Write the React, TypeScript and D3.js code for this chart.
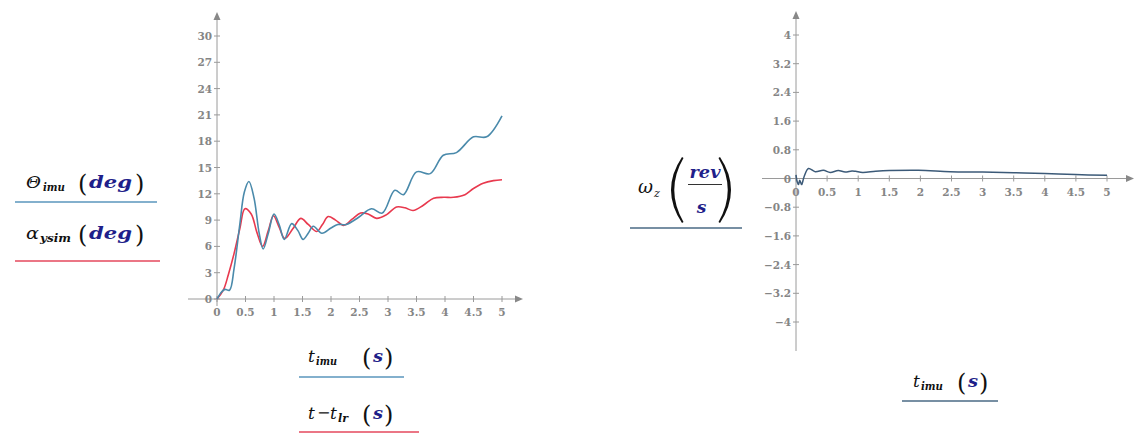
import React from "react";
import * as d3 from "d3";

// ---- data: left plot (angles in deg vs time in s) ----
const thetaT = [0, 0.08, 0.14, 0.22, 0.3, 0.4, 0.48, 0.56, 0.65, 0.74, 0.81, 0.9, 1.0, 1.09, 1.18, 1.31, 1.42, 1.51, 1.6, 1.69, 1.84, 2.0, 2.12, 2.27, 2.48, 2.71, 2.9, 3.12, 3.27, 3.5, 3.74, 3.97, 4.2, 4.5, 4.73, 5.0];
const thetaV = [0, 0.8, 1.1, 1.0, 3.5, 8.5, 12.2, 13.4, 11.5, 7.5, 5.7, 7.5, 9.7, 8.5, 6.8, 8.6, 7.8, 6.8, 7.5, 8.3, 7.5, 8.1, 8.5, 8.5, 9.3, 10.3, 9.8, 12.4, 11.9, 14.5, 14.3, 16.4, 16.7, 18.5, 18.5, 20.9];

const alphaT = [0, 0.11, 0.2, 0.3, 0.4, 0.49, 0.6, 0.7, 0.8, 0.9, 0.99, 1.09, 1.19, 1.33, 1.47, 1.6, 1.75, 1.85, 1.95, 2.08, 2.22, 2.37, 2.52, 2.65, 2.8, 2.97, 3.15, 3.3, 3.44, 3.62, 3.8, 3.98, 4.15, 4.35, 4.5, 4.67, 4.85, 5.0];
const alphaV = [0, 1.0, 2.8, 5.2, 8.0, 10.3, 9.7, 7.6, 6.0, 7.8, 9.5, 8.2, 6.9, 8.0, 9.2, 8.5, 7.7, 8.5, 9.4, 9.0, 8.4, 9.1, 9.8, 9.7, 9.2, 9.6, 10.5, 10.4, 10.1, 10.7, 11.5, 11.6, 11.6, 11.9, 12.6, 13.2, 13.5, 13.6];

const leftXTicks = [0, 0.5, 1, 1.5, 2, 2.5, 3, 3.5, 4, 4.5, 5];
const leftYTicks = [0, 3, 6, 9, 12, 15, 18, 21, 24, 27, 30];

// ---- data: right plot (angular rate in rev/s vs time in s) ----
const omegaT = [0, 0.02, 0.04, 0.06, 0.09, 0.13, 0.2, 0.31, 0.44, 0.55, 0.68, 0.79, 0.9, 0.96, 1.07, 1.28, 1.5, 1.97, 2.48, 3.0, 3.5, 4.0, 4.49, 5.0];
const omegaV = [0.1, -0.1, -0.17, -0.05, -0.17, 0.05, 0.28, 0.19, 0.23, 0.17, 0.22, 0.18, 0.21, 0.2, 0.17, 0.2, 0.22, 0.23, 0.19, 0.18, 0.16, 0.14, 0.11, 0.09];

const rightXTicks = [0, 0.5, 1, 1.5, 2, 2.5, 3, 3.5, 4, 4.5, 5];
const rightYTicks = [-4, -3.2, -2.4, -1.6, -0.8, 0, 0.8, 1.6, 2.4, 3.2, 4];

const AXIS = "#9a9a9a";
const TICK_TEXT = "#858585";
const BLUE = "#4a8aab";
const RED = "#e8394e";
const SLATE = "#3c5a78";
const NAVY = "#1f1f8a";
const SERIF = "DejaVu Serif";

const fmt = (v: number) => (v < 0 ? "\u2212" + String(-v) : String(v));

type AxesProps = {
  x: d3.ScaleLinear<number, number>;
  y: d3.ScaleLinear<number, number>;
  xTicks: number[];
  yTicks: number[];
  xLeft: number;
  xRight: number;
  yBottom: number;
  yTop: number;
};

function Axes({ x, y, xTicks, yTicks, xLeft, xRight, yBottom, yTop }: AxesProps) {
  const x0 = x(0);
  const y0 = y(0);
  return (
    <g>
      <line x1={xLeft} x2={xRight - 6} y1={y0} y2={y0} stroke={AXIS} strokeWidth={1} />
      <path d={`M${xRight},${y0} L${xRight - 8},${y0 - 3.5} L${xRight - 8},${y0 + 3.5} Z`} fill="#888" />
      <line x1={x0} x2={x0} y1={yBottom} y2={yTop + 6} stroke={AXIS} strokeWidth={1} />
      <path d={`M${x0},${yTop} L${x0 - 3.5},${yTop + 8} L${x0 + 3.5},${yTop + 8} Z`} fill="#888" />
      {xTicks.map((t) => (
        <g key={"x" + t}>
          <line x1={x(t)} x2={x(t)} y1={y0 - 3} y2={y0 + 3} stroke={AXIS} />
          <text x={x(t)} y={y0 + 17} textAnchor="middle" fontFamily={SERIF} fontSize={10.5} fontWeight="bold" fill={TICK_TEXT}>
            {fmt(t)}
          </text>
        </g>
      ))}
      {yTicks.map((t) => (
        <g key={"y" + t}>
          <line x1={x0 - 3} x2={x0 + 3} y1={y(t)} y2={y(t)} stroke={AXIS} />
          <text x={x0 - 5} y={y(t) + 4} textAnchor="end" fontFamily={SERIF} fontSize={10.5} fontWeight="bold" fill={TICK_TEXT}>
            {fmt(t)}
          </text>
        </g>
      ))}
    </g>
  );
}

function Paren({ x, y, side }: { x: number; y: number; side: "l" | "r" }) {
  return (
    <text x={x} y={y} fontFamily={SERIF} fontSize={24} fill="#111">
      {side === "l" ? "(" : ")"}
    </text>
  );
}

export default function App() {
  // left plot scales
  const lx = d3.scaleLinear().domain([0, 5]).range([217, 502]);
  const ly = d3.scaleLinear().domain([0, 30]).range([299, 36]);
  // right plot scales
  const rx = d3.scaleLinear().domain([0, 5]).range([796, 1107]);
  const ry = d3.scaleLinear().domain([-4, 4]).range([322, 35]);

  const lineL = d3
    .line<[number, number]>()
    .x((d) => lx(d[0]))
    .y((d) => ly(d[1]))
    .curve(d3.curveCatmullRom.alpha(0.5));
  const lineR = d3
    .line<[number, number]>()
    .x((d) => rx(d[0]))
    .y((d) => ry(d[1]))
    .curve(d3.curveCatmullRom.alpha(0.5));

  const theta = thetaT.map((t, i) => [t, thetaV[i]] as [number, number]);
  const alpha = alphaT.map((t, i) => [t, alphaV[i]] as [number, number]);
  const omega = omegaT.map((t, i) => [t, omegaV[i]] as [number, number]);

  return (
    <svg width={1135} height={436} style={{ position: "absolute", left: 0, top: 0, background: "#fff" }}>
      {/* ---------- left plot ---------- */}
      <Axes x={lx} y={ly} xTicks={leftXTicks} yTicks={leftYTicks} xLeft={188} xRight={523} yBottom={306} yTop={12} />
      <path d={lineL(alpha) || ""} fill="none" stroke={RED} strokeWidth={1.6} />
      <path d={lineL(theta) || ""} fill="none" stroke={BLUE} strokeWidth={1.6} />

      {/* y labels */}
      <g fontFamily={SERIF}>
        <text x={26} y={188} fontSize={17} fontStyle="italic" fill="#111" textLength={15} lengthAdjust="spacingAndGlyphs">Θ</text>
        <text x={43} y={191} fontSize={11} fontStyle="italic" fontWeight="bold" fill="#111" textLength={22} lengthAdjust="spacingAndGlyphs">imu</text>
        <Paren x={78} y={192} side="l" />
        <text x={89} y={188} fontSize={17} fontStyle="italic" fontWeight="bold" fill={NAVY} textLength={43} lengthAdjust="spacingAndGlyphs">deg</text>
        <Paren x={135} y={192} side="r" />
        <line x1={15} x2={157} y1={202} y2={202} stroke="#5a96bd" strokeWidth={1.6} />

        <text x={26} y={239} fontSize={17} fontStyle="italic" fill="#111" textLength={13} lengthAdjust="spacingAndGlyphs">α</text>
        <text x={40} y={242} fontSize={11} fontStyle="italic" fontWeight="bold" fill="#111" textLength={31} lengthAdjust="spacingAndGlyphs">ysim</text>
        <Paren x={78} y={243} side="l" />
        <text x={89} y={239} fontSize={17} fontStyle="italic" fontWeight="bold" fill={NAVY} textLength={43} lengthAdjust="spacingAndGlyphs">deg</text>
        <Paren x={135} y={243} side="r" />
        <line x1={15} x2={160} y1={261} y2={261} stroke="#e5485c" strokeWidth={1.6} />

        {/* x labels */}
        <text x={308} y={362} fontSize={17} fontStyle="italic" fill="#111">t</text>
        <text x={316} y={365} fontSize={11} fontStyle="italic" fontWeight="bold" fill="#111" textLength={21} lengthAdjust="spacingAndGlyphs">imu</text>
        <Paren x={362} y={366} side="l" />
        <text x={373} y={362} fontSize={17} fontStyle="italic" fontWeight="bold" fill={NAVY} textLength={10} lengthAdjust="spacingAndGlyphs">s</text>
        <Paren x={384} y={366} side="r" />
        <line x1={299} x2={404} y1={377} y2={377} stroke="#5a96bd" strokeWidth={1.6} />

        <text x={308} y={419} fontSize={17} fontStyle="italic" fill="#111">t</text>
        <text x={317} y={418} fontSize={16} fill="#111">−</text>
        <text x={330} y={419} fontSize={17} fontStyle="italic" fill="#111">t</text>
        <text x={338} y={422} fontSize={11} fontStyle="italic" fontWeight="bold" fill="#111" textLength={10} lengthAdjust="spacingAndGlyphs">lr</text>
        <Paren x={362} y={423} side="l" />
        <text x={373} y={419} fontSize={17} fontStyle="italic" fontWeight="bold" fill={NAVY} textLength={10} lengthAdjust="spacingAndGlyphs">s</text>
        <Paren x={384} y={423} side="r" />
        <line x1={299} x2={419} y1={432} y2={432} stroke="#e5485c" strokeWidth={1.6} />
      </g>

      {/* ---------- right plot ---------- */}
      <Axes x={rx} y={ry} xTicks={rightXTicks} yTicks={rightYTicks} xLeft={762} xRight={1134} yBottom={351} yTop={11} />
      <path d={lineR(omega) || ""} fill="none" stroke={SLATE} strokeWidth={1.5} />

      <g fontFamily={SERIF}>
        <text x={638} y={193} fontSize={18} fontStyle="italic" fill="#111" textLength={15} lengthAdjust="spacingAndGlyphs">ω</text>
        <text x={654} y={197} fontSize={11} fontStyle="italic" fill="#111">z</text>
        <path d="M682,157 Q660,190 682,223 L683.5,222 Q665,190 683.5,158 Z" fill="#111" />
        <path d="M720,157 Q742,190 720,223 L718.5,222 Q737,190 718.5,158 Z" fill="#111" />
        <text x={705} y={178} textAnchor="middle" fontSize={17} fontStyle="italic" fontWeight="bold" fill={NAVY} textLength={31} lengthAdjust="spacingAndGlyphs">rev</text>
        <line x1={688} x2={722} y1={184.5} y2={184.5} stroke="#333" strokeWidth={1} />
        <text x={701.5} y={213} textAnchor="middle" fontSize={17} fontStyle="italic" fontWeight="bold" fill={NAVY}>s</text>
        <line x1={630} x2={742} y1={228} y2={228} stroke="#4a6a85" strokeWidth={1.6} />

        <text x={913} y={387} fontSize={17} fontStyle="italic" fill="#111">t</text>
        <text x={921} y={390} fontSize={11} fontStyle="italic" fontWeight="bold" fill="#111" textLength={22} lengthAdjust="spacingAndGlyphs">imu</text>
        <Paren x={957} y={391} side="l" />
        <text x={968} y={387} fontSize={17} fontStyle="italic" fontWeight="bold" fill={NAVY} textLength={10} lengthAdjust="spacingAndGlyphs">s</text>
        <Paren x={979} y={391} side="r" />
        <line x1={902} x2={998} y1={401} y2={401} stroke="#4a6a85" strokeWidth={1.6} />
      </g>
    </svg>
  );
}
